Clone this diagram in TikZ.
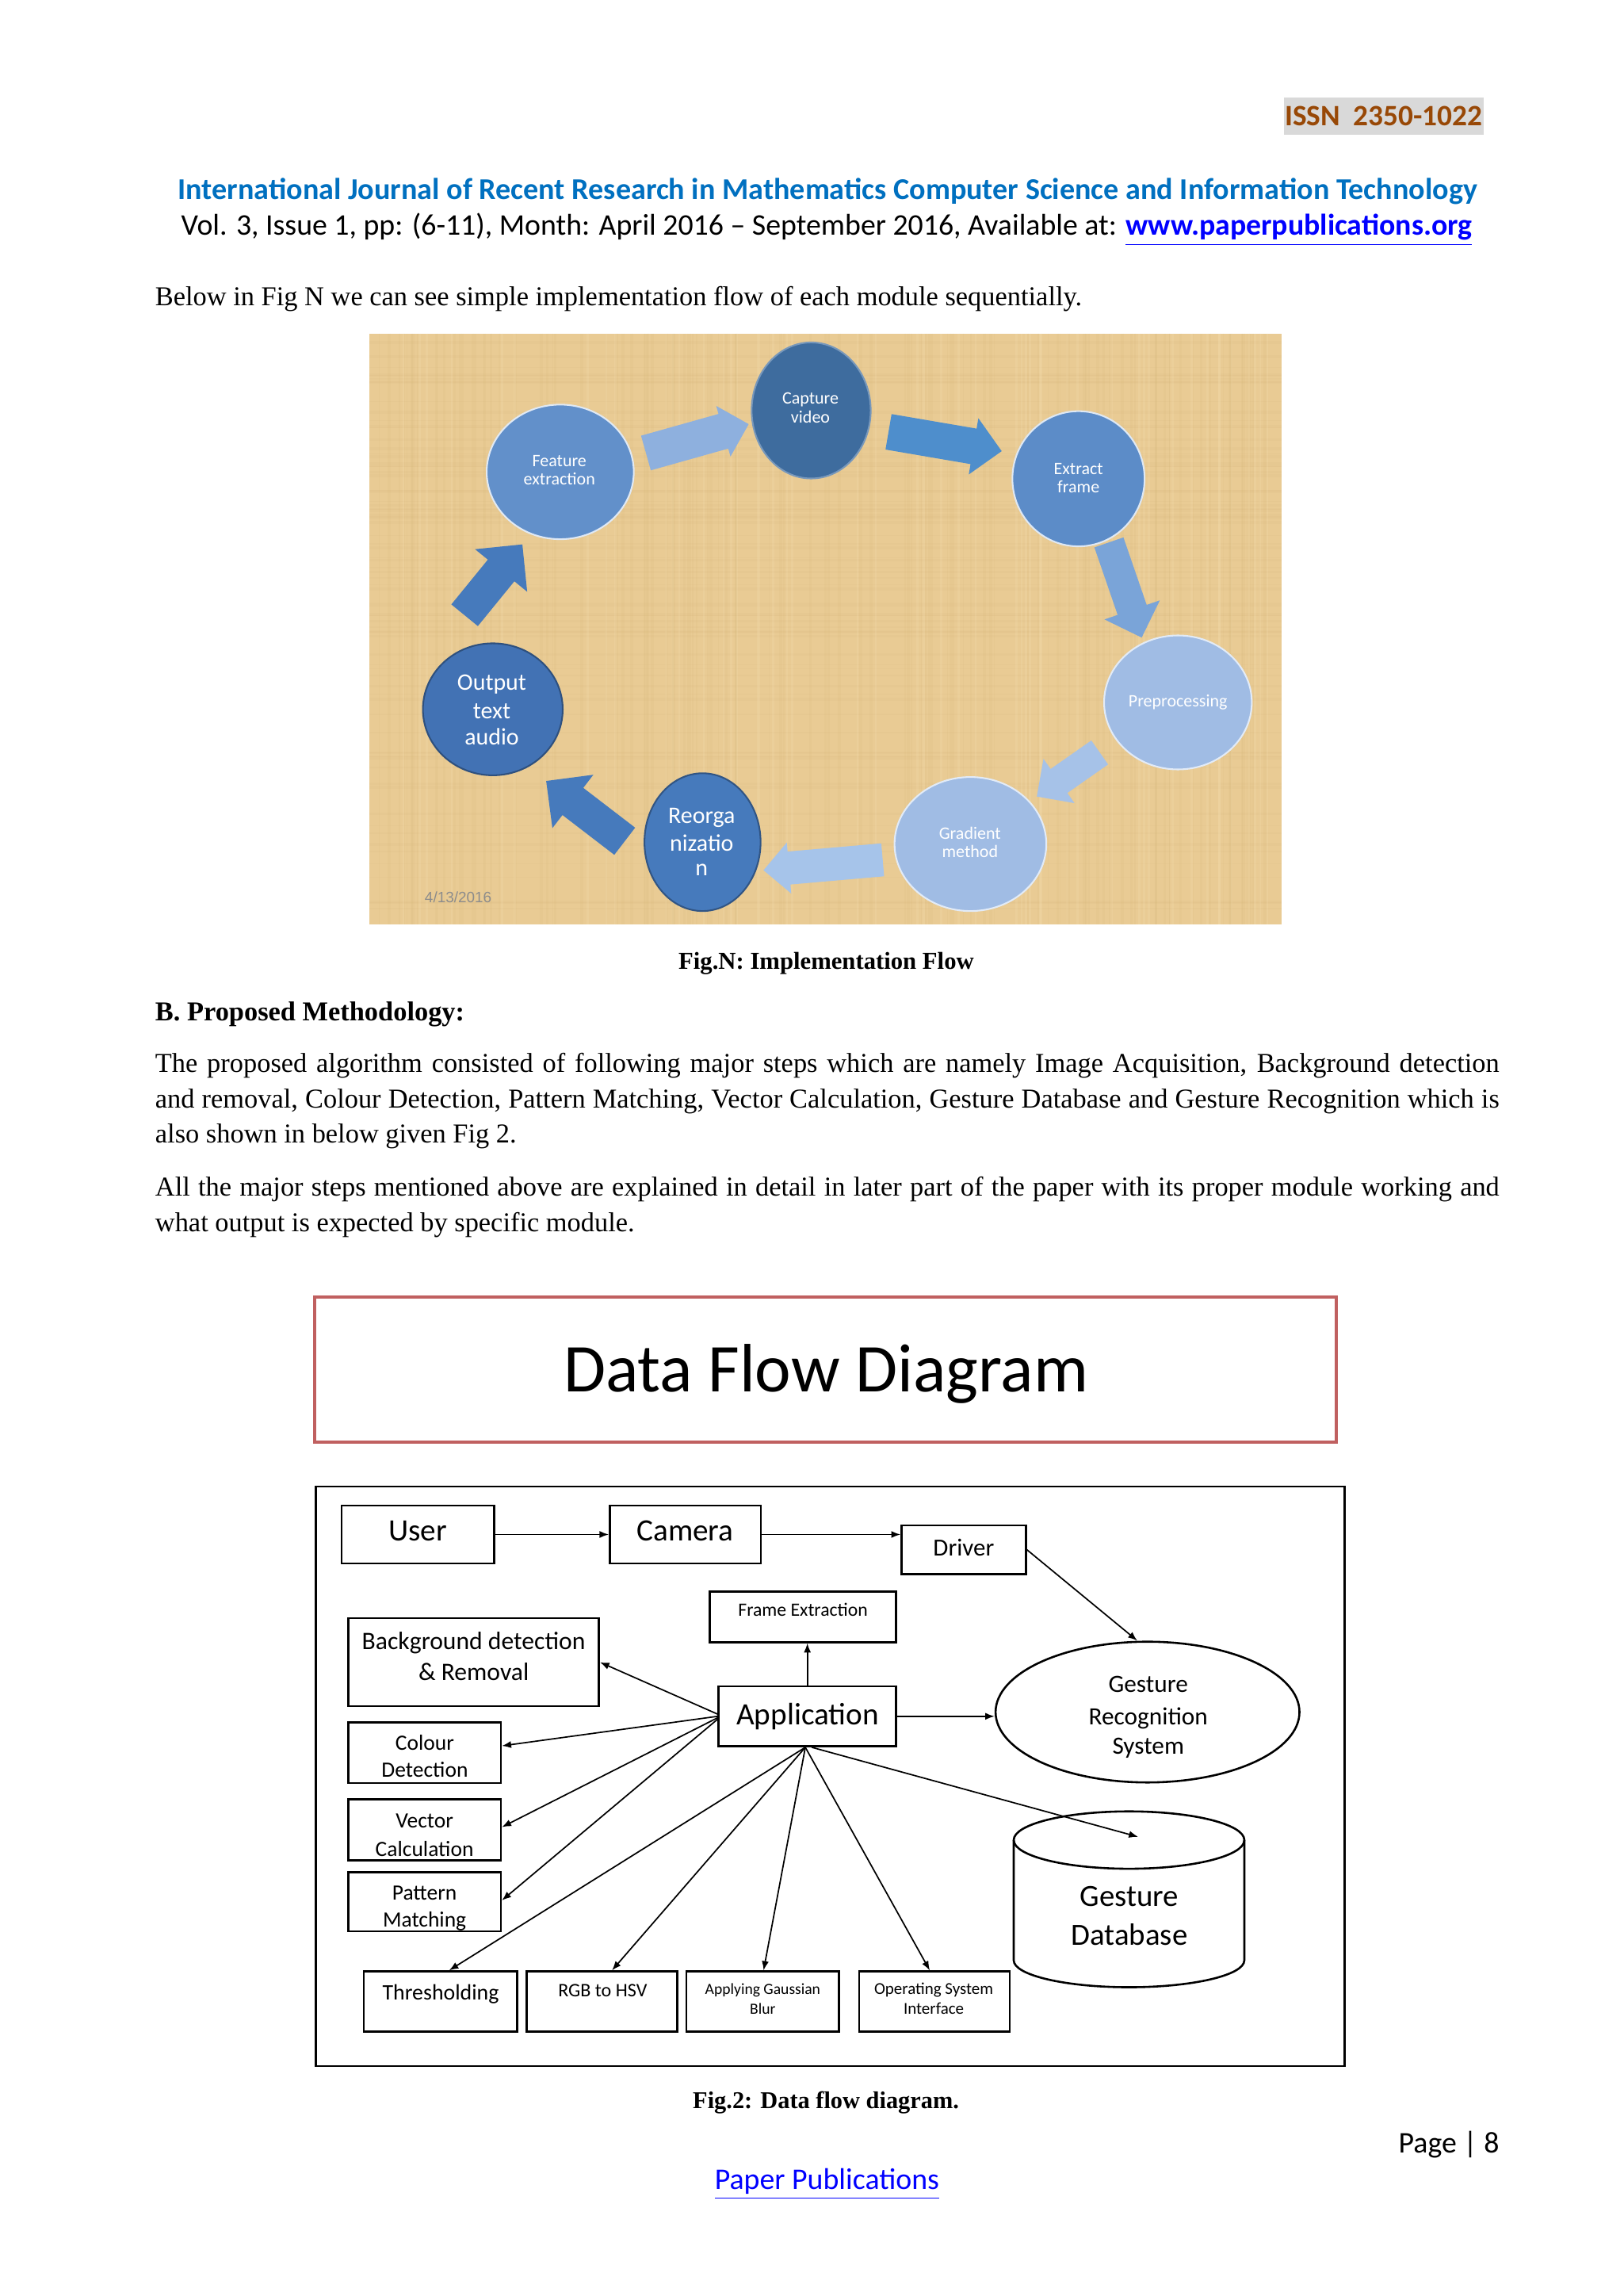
\documentclass[tikz,border=0pt]{standalone}
\usepackage{fontspec}
\setmainfont{Liberation Serif}
\newfontfamily\calibri{Carlito}
\newfontfamily\arialf{Liberation Sans}
\usetikzlibrary{arrows.meta,calc,shapes.geometric}
\newcommand{\dunit}{0.5363pt}
\newcommand{\bodyfont}{\fontsize{10}{12}\selectfont}
\newcommand{\cf}[1]{\calibri\fontsize{#1}{#1}\selectfont}
\definecolor{hdrblue}{RGB}{0,112,192}
\definecolor{issnbrown}{RGB}{152,72,6}
\definecolor{issngrey}{RGB}{217,217,217}
\definecolor{linkblue}{RGB}{0,0,255}
\definecolor{tanbg}{RGB}{233,203,148}
\definecolor{tandark}{RGB}{205,172,112}
\definecolor{tanlight}{RGB}{246,224,178}
\definecolor{cCap}{RGB}{62,108,158}
\definecolor{cFeat}{RGB}{98,144,202}
\definecolor{cExt}{RGB}{92,140,200}
\definecolor{cPre}{RGB}{160,188,228}
\definecolor{cGrad}{RGB}{160,188,228}
\definecolor{cReorg}{RGB}{70,122,188}
\definecolor{cOut}{RGB}{66,114,180}
\definecolor{aOne}{RGB}{142,176,222}
\definecolor{aTwo}{RGB}{78,142,204}
\definecolor{aThree}{RGB}{122,164,216}
\definecolor{aFour}{RGB}{166,194,232}
\definecolor{aFive}{RGB}{166,196,234}
\definecolor{aDark}{RGB}{70,122,188}
\definecolor{titlered}{RGB}{192,96,96}
\newcommand{\blockarrow}[7]{%
  \fill[#1,shift={(#2,#3)},rotate=#4] (0,-#6) -- ({#5-#7},-#6) -- ({#5-#7},-#7) -- (#5,0) -- ({#5-#7},#7) -- ({#5-#7},#6) -- (0,#6) -- cycle;}
\newcommand{\dbx}[5]{\node[dbox, minimum width={(#4-#2)*\dunit}, minimum height={(#5-#3)*\dunit}] (#1) at ({(#2+#4)/2},{(#3+#5)/2}) {};}
\begin{document}
\begin{tikzpicture}[x=0.5363pt,y=-0.5363pt,
  txt/.style={inner sep=0pt, outer sep=0pt},
  dbox/.style={draw, line width=0.75pt, inner sep=0pt},
  circ/.style={ellipse, inner sep=0pt, line width=0.6pt},
  ctxt/.style={txt, anchor=base, text=white},
  flow/.style={line width=0.5pt, -{Latex[length=3.4pt,width=2.6pt]}}]
\useasboundingbox (0,0) rectangle (1110,1569.6);
\fill[white] (0,0) rectangle (1110,1569.6);

% ---------- header ----------
\fill[issngrey] (877.8,66.8) rectangle (1014.5,92.1);
\node[txt, anchor=base] (issn) at (946.2,85.8) {\resizebox{72.5pt}{!}{\calibri\bfseries\color{issnbrown}ISSN~~2350-1022}};
\node[txt, anchor=base] (hdra) at (566,136.4) {\resizebox{476.5pt}{!}{\calibri\bfseries\color{hdrblue}International Journal of Recent Research in Mathematics Computer Science and Information Technology}};
\node[txt, anchor=base] (hdrb) at (565.3,160.8) {\resizebox{473.4pt}{!}{\calibri Vol. 3, Issue 1, pp: (6-11), Month: April 2016 – September 2016, Available at: \textcolor{linkblue}{\underline{\bfseries www.paperpublications.org}}}};
\node[txt, anchor=base west] (below) at (106.2,208.7) {\bodyfont Below in Fig N we can see simple implementation flow of each module sequentially.};

% ---------- Fig N ----------
\begin{scope}
\clip (252.6,228) rectangle (876.4,632.1);
\fill[tanbg] (252.6,228) rectangle (876.4,632.1);
\pgfmathsetseed{12}
\foreach \k in {1,...,110}{
  \pgfmathsetmacro{\xx}{252.6+rnd*623.8}
  \pgfmathsetmacro{\ww}{0.4+rnd*1.8}
  \draw[tandark, opacity=0.09, line width=\ww*\dunit] (\xx,228) -- (\xx,632.1);}
\foreach \k in {1,...,80}{
  \pgfmathsetmacro{\yy}{228+rnd*404}
  \pgfmathsetmacro{\ww}{0.4+rnd*1.8}
  \draw[tandark, opacity=0.08, line width=\ww*\dunit] (252.6,\yy) -- (876.4,\yy);}
\foreach \k in {1,...,50}{
  \pgfmathsetmacro{\xx}{252.6+rnd*623.8}
  \draw[tanlight, opacity=0.2, line width=1.5*\dunit] (\xx,228) -- (\xx,632.1);}
\end{scope}

\blockarrow{aOne}{441.7}{309.7}{15.7}{73}{12.3}{18}
\blockarrow{aTwo}{607.6}{295.2}{-9.7}{78.5}{12.3}{19.5}
\blockarrow{aThree}{758.3}{370.8}{-71}{68.8}{10.5}{20}
\blockarrow{aFour}{752}{514.4}{-145}{52.5}{10}{18.5}
\blockarrow{aFive}{603.6}{587.8}{-175}{81.8}{11.3}{17.5}
\blockarrow{aDark}{427.2}{575.1}{142.5}{67.7}{11.7}{23}
\blockarrow{aDark}{317.7}{420.6}{50.8}{62.5}{11.7}{23}

\node[circ, fill=cCap, draw=cCap!70!white, minimum width=81.4*\dunit, minimum height=93*\dunit] (cap) at (554.7,280.6) {};
\node[circ, fill=cFeat, draw=white!80!cFeat, minimum width=100.6*\dunit, minimum height=92*\dunit] (feat) at (383.1,322.6) {};
\node[circ, fill=cExt, draw=white!80!cExt, minimum width=90.4*\dunit, minimum height=92.4*\dunit] (ext) at (737.5,327.3) {};
\node[circ, fill=cPre, draw=white!70!cPre, minimum width=101*\dunit, minimum height=91.6*\dunit] (pre) at (805.5,480.2) {};
\node[circ, fill=cGrad, draw=white!70!cGrad, minimum width=103.8*\dunit, minimum height=91.6*\dunit] (grad) at (663.6,577) {};
\node[circ, fill=cReorg, draw=cReorg!70!black, minimum width=79.4*\dunit, minimum height=94.2*\dunit] (reorg) at (480.4,575.7) {};
\node[circ, fill=cOut, draw=cOut!70!black, minimum width=95.6*\dunit, minimum height=90.2*\dunit] (outp) at (337,484.9) {};

\node[ctxt] (capa) at (554.2,276.4) {\cf{6.4}Capture};
\node[ctxt] (capb) at (554.2,289.1) {\cf{6.4}video};
\node[ctxt] (feata) at (382.5,318.8) {\cf{6.4}Feature};
\node[ctxt] (featb) at (382.5,331.6) {\cf{6.4}extraction};
\node[ctxt] (exta) at (737.5,324.2) {\cf{6.4}Extract};
\node[ctxt] (extb) at (737.5,336.9) {\cf{6.4}frame};
\node[ctxt] (prea) at (805.5,483.2) {\cf{6.4}Preprocessing};
\node[ctxt] (grada) at (663.3,573.5) {\cf{6.4}Gradient};
\node[ctxt] (gradb) at (663.3,586.3) {\cf{6.4}method};
\node[ctxt] (reorga) at (479.8,563) {\cf{8.7}Reorga};
\node[ctxt] (reorgb) at (479.8,581.6) {\cf{8.7}nizatio};
\node[ctxt] (reorgc) at (479.8,598.8) {\cf{8.7}n};
\node[ctxt] (outa) at (336.3,472) {\cf{8.7}Output};
\node[ctxt] (outb) at (336.3,491.4) {\cf{8.7}text};
\node[ctxt] (outc) at (336.3,509.4) {\cf{8.7}audio};
\node[txt, anchor=base west, text=black!45] (date) at (290.5,617) {\arialf\fontsize{5.5}{5.5}\selectfont 4/13/2016};

\node[txt, anchor=base] (capN) at (565,662.7) {\resizebox{108.3pt}{!}{\bfseries Fig.N: Implementation Flow}};

% ---------- text ----------
\node[txt, anchor=base west] (secB) at (106.2,697.7) {\bodyfont\bfseries B. Proposed Methodology:};
\node[txt, anchor=base west] (pa) at (106.2,733.2) {\bodyfont\makebox[492.9pt][s]{The proposed algorithm consisted of following major steps which are namely Image Acquisition, Background detection}};
\node[txt, anchor=base west] (pb) at (106.2,757.3) {\bodyfont\makebox[492.9pt][s]{and removal, Colour Detection, Pattern Matching, Vector Calculation, Gesture Database and Gesture Recognition which is}};
\node[txt, anchor=base west] (pc) at (106.2,781.4) {\bodyfont also shown in below given Fig 2.};
\node[txt, anchor=base west] (qa) at (106.2,817.5) {\bodyfont\makebox[492.9pt][s]{All the major steps mentioned above are explained in detail in later part of the paper with its proper module working and}};
\node[txt, anchor=base west] (qb) at (106.2,841.9) {\bodyfont what output is expected by specific module.};

% ---------- Data flow diagram ----------
\node[draw=titlered, line width=1.1pt, inner sep=0pt, minimum width=698.7*\dunit, minimum height=99*\dunit] (titlebox) at (564.6,936.2) {};
\node[txt, anchor=base] (title) at (564.8,951.7) {\cf{25.1}Data Flow Diagram};

\node[draw, line width=0.75pt, inner sep=0pt, minimum width=703.3*\dunit, minimum height=396*\dunit] (frm) at (567.75,1214.3) {};

\dbx{user}{233.5}{1029.2}{337.9}{1068.8}
\dbx{camera}{417}{1029.2}{520.4}{1068.8}
\dbx{driver}{616.5}{1042.7}{701.5}{1076.1}
\dbx{frame}{485.5}{1087.9}{612.8}{1122.6}
\dbx{bg}{238.1}{1106.3}{409.6}{1166.4}
\dbx{app}{491.4}{1152.8}{612.8}{1193.8}
\dbx{colour}{238.1}{1177.5}{342.5}{1218.9}
\dbx{vector}{238.1}{1230}{342.5}{1271.7}
\dbx{pattern}{238.1}{1280}{342.5}{1320.3}
\dbx{thr}{248.7}{1347.7}{353.5}{1388.7}
\dbx{rgb}{360}{1347.7}{463}{1388.7}
\dbx{gauss}{469.4}{1347.7}{573.7}{1388.7}
\dbx{os}{587.5}{1347.7}{690.5}{1388.7}
\node[draw, ellipse, line width=0.75pt, inner sep=0pt, minimum width=207.8*\dunit, minimum height=96.2*\dunit] (grs) at (784.7,1170.4) {};

% cylinder
\draw[line width=0.75pt] (772.05,1257.9) ellipse [x radius=78.85, y radius=19.6];
\draw[line width=0.75pt] (693.2,1257.9) -- (693.2,1340.1) arc[start angle=180, end angle=0, x radius=78.85, y radius=18.4] -- (850.9,1257.9);
\coordinate (dbin) at (778.3,1255.7);

% labels
\node[txt, anchor=base] (userl) at (285.7,1053.5) {\cf{11.4}User};
\node[txt, anchor=base] (caml) at (468.5,1053.5) {\cf{11.4}Camera};
\node[txt, anchor=base] (drvl) at (659,1063.9) {\cf{9}Driver};
\node[txt, anchor=base] (frml) at (549.1,1104.9) {\cf{6.9}Frame Extraction};
\node[txt, anchor=base] (bgla) at (323.9,1127.5) {\cf{9.2}Background detection};
\node[txt, anchor=base] (bglb) at (323.9,1148.7) {\cf{9.2}\& Removal};
\node[txt, anchor=base] (appl) at (552.3,1178.9) {\cf{11.4}Application};
\node[txt, anchor=base] (grsa) at (785.2,1157) {\cf{9.1}Gesture};
\node[txt, anchor=base] (grsb) at (785.2,1178.9) {\cf{9.1}Recognition};
\node[txt, anchor=base] (grsc) at (785.2,1199.4) {\cf{9.1}System};
\node[txt, anchor=base] (cola) at (290.5,1196.6) {\cf{8}Colour};
\node[txt, anchor=base] (colb) at (290.5,1215) {\cf{8}Detection};
\node[txt, anchor=base] (veca) at (290.3,1249.8) {\cf{8}Vector};
\node[txt, anchor=base] (vecb) at (290.3,1268.9) {\cf{8}Calculation};
\node[txt, anchor=base] (pata) at (290.3,1298.7) {\cf{8}Pattern};
\node[txt, anchor=base] (patb) at (290.3,1317.5) {\cf{8}Matching};
\node[txt, anchor=base] (dbla) at (772.3,1303.3) {\cf{11.3}Gesture};
\node[txt, anchor=base] (dblb) at (772.3,1329.7) {\cf{11.3}Database};
\node[txt, anchor=base] (thrl) at (301.4,1367.2) {\cf{8.1}Thresholding};
\node[txt, anchor=base] (rgbl) at (412.1,1365.1) {\cf{7}RGB to HSV};
\node[txt, anchor=base] (gaua) at (521.6,1363.4) {\cf{5.7}Applying Gaussian};
\node[txt, anchor=base] (gaub) at (521.6,1376.9) {\cf{5.7}Blur};
\node[txt, anchor=base] (osa) at (638.5,1363.4) {\cf{6.1}Operating System};
\node[txt, anchor=base] (osb) at (638.5,1376.9) {\cf{6.1}Interface};

% connectors
\draw[flow] (user.east) -- (camera.west);
\draw[flow] (camera.east) -- (camera.east -| driver.west);
\draw[flow] (driver.east) -- ($(grs.north)+(-7,0)$);
\draw[flow] (app.north) -- (app.north |- frame.south);
\draw[flow] (app.east) -- (app.east -| grs.west);
\draw[flow] ($(app.west)+(0,-1.5)$) -- (bg.east);
\draw[flow] (app.west) -- ($(colour.east)+(0,-4.7)$);
\draw[flow] ($(app.west)+(0,1)$) -- ($(vector.east)+(0,-1.8)$);
\draw[flow] ($(app.west)+(0,2)$) -- ($(pattern.east)+(0,-1)$);
\draw[flow] ($(app.south)+(-1.4,0)$) -- ($(thr.north)+(6,0)$);
\draw[flow] ($(app.south)+(-1.4,0)$) -- ($(rgb.north)+(7,0)$);
\draw[flow] ($(app.south)+(-1.4,0)$) -- ($(gauss.north)+(0.6,0)$);
\draw[flow] ($(app.south)+(-1.4,0)$) -- ($(os.north)+(-3.2,0)$);
\draw[flow] ($(app.south)+(3,0)$) -- (dbin);

% ---------- footer ----------
\node[txt, anchor=base] (cap2) at (564.8,1441.4) {\resizebox{97.6pt}{!}{\bfseries Fig.2: Data flow diagram.}};
\node[txt, anchor=base east] (page) at (1025.2,1471.5) {\cf{11}Page | 8};
\node[txt, anchor=base] (pp) at (565.5,1496.8) {\cf{11}\color{linkblue}\underline{Paper Publications}};
\end{tikzpicture}
\end{document}
